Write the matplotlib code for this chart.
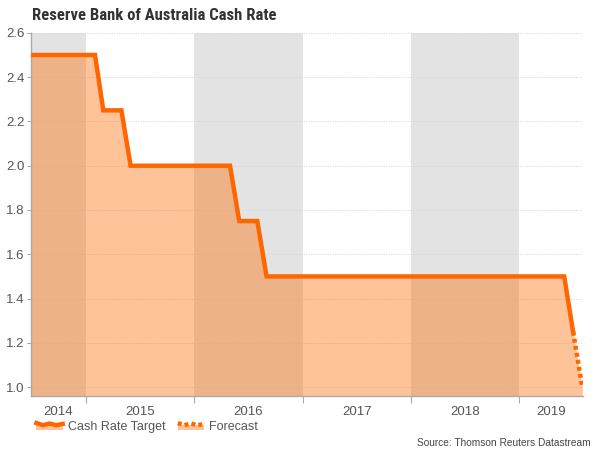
import pandas as pd
import matplotlib
matplotlib.use("Agg")
import matplotlib.pyplot as plt
from matplotlib.lines import Line2D
from matplotlib.patches import Rectangle
from matplotlib.legend_handler import HandlerBase

# -------------------- DATA --------------------
# monthly points where the cash rate changes (value at start of month)
rate_dates = ['2014-07', '2015-02', '2015-03', '2015-05', '2015-06', '2016-05',
              '2016-06', '2016-08', '2016-09', '2019-06', '2019-07']
rate_values = [2.50, 2.50, 2.25, 2.25, 2.00, 2.00, 1.75, 1.75, 1.50, 1.50, 1.25]
fc_dates = ['2019-07', '2019-08']
fc_values = [1.25, 1.00]
shaded_years = [2014, 2016, 2018]
year_labels = [2014, 2015, 2016, 2017, 2018, 2019]
y_ticks = [1.0, 1.2, 1.4, 1.6, 1.8, 2.0, 2.2, 2.4, 2.6]

ORANGE = '#ff6600'
GREY_TXT = '#555555'
DOTS = (0, (0.9, 0.7))

x_rate = pd.to_datetime(rate_dates)
x_fc = pd.to_datetime(fc_dates)
x_min = pd.Timestamp('2014-07-01')
x_max = pd.Timestamp('2019-08-04')
y_min, y_max = 0.96, 2.6


class AreaLineHandler(HandlerBase):
    """peach strip with a wavy orange line on top (like the area legend icon)"""
    def __init__(self, ls='-'):
        super().__init__()
        self.ls = ls

    def create_artists(self, legend, orig_handle, xdescent, ydescent, width,
                       height, fontsize, trans):
        rect = Rectangle((-xdescent, -ydescent), width, height * 0.55,
                         facecolor='#ff6a00', alpha=0.4, lw=0, transform=trans)
        xs = [-xdescent + width * f for f in (0, 0.25, 0.5, 0.75, 1.0)]
        ys = [-ydescent + height * f for f in (0.75, 0.5, 0.7, 0.5, 0.65)]
        line = Line2D(xs, ys, color=ORANGE, lw=3.2, ls=self.ls, transform=trans)
        return [rect, line]


plt.rcParams['font.family'] = ['Liberation Sans', 'DejaVu Sans']
fig = plt.figure(figsize=(6, 4.5), dpi=100)
ax = fig.add_axes([0.052, 0.12, 0.92, 0.807])

# grey bands for alternate years
for yr in shaded_years:
    lo = max(pd.Timestamp(f'{yr}-01-01'), x_min)
    hi = min(pd.Timestamp(f'{yr + 1}-01-01'), x_max)
    ax.axvspan(lo, hi, color='#e3e3e3', lw=0, zorder=0)

# faint dotted grid
for y in y_ticks:
    ax.axhline(y, color='#d6d6d6', lw=0.7, ls=(0, (1, 1.5)), zorder=1)

# fill under the whole series
x_all = list(x_rate) + list(x_fc[1:])
y_all = rate_values + fc_values[1:]
ax.fill_between(x_all, y_all, y_min, color='#ff6a00', alpha=0.4, lw=0, zorder=2)

ax.plot(x_rate, rate_values, color=ORANGE, lw=3.2, solid_joinstyle='miter', zorder=3)
ax.plot(x_fc, fc_values, color=ORANGE, lw=3.2, ls=DOTS, zorder=3)

ax.set_xlim(x_min, x_max)
ax.set_ylim(y_min, y_max)

# y axis
ax.set_yticks(y_ticks)
ax.set_yticklabels([f'{v:.1f}' for v in y_ticks])
ax.tick_params(axis='y', length=3, color='#aaaaaa', labelsize=9.5, labelcolor=GREY_TXT, pad=2)

# x axis: ticks at year boundaries, labels centred in visible part of year
bounds = [pd.Timestamp(f'{y}-01-01') for y in year_labels[1:]]
ax.set_xticks(bounds)
ax.set_xticklabels([])
ax.tick_params(axis='x', length=5, color='#aaaaaa')
centres = []
for yr in year_labels:
    lo = max(pd.Timestamp(f'{yr}-01-01'), x_min)
    hi = min(pd.Timestamp(f'{yr + 1}-01-01'), x_max)
    centres.append(lo + (hi - lo) / 2)
ax.set_xticks(centres, minor=True)
ax.set_xticklabels([str(y) for y in year_labels], minor=True)
ax.tick_params(axis='x', which='minor', length=0, labelsize=9.5, labelcolor=GREY_TXT, pad=7)

for s in ['top', 'right']:
    ax.spines[s].set_visible(False)
for s in ['left', 'bottom']:
    ax.spines[s].set_color('#aaaaaa')
    ax.spines[s].set_linewidth(1.0)

fig.text(0.053, 0.965, 'Reserve Bank of Australia Cash Rate', fontsize=12,
         fontweight='bold', color='#333333', va='center', ha='left',
         family=['Roboto Condensed', 'Lato', 'DejaVu Sans'])

h1 = Line2D([], [])
h2 = Line2D([], [], ls=':')
fig.legend([h1, h2], ['Cash Rate Target', 'Forecast'],
           handler_map={h1: AreaLineHandler('-'), h2: AreaLineHandler(DOTS)},
           loc='center left', bbox_to_anchor=(0.042, 0.052), ncol=2, frameon=False,
           fontsize=9, labelcolor=GREY_TXT, handlelength=2.1, handletextpad=0.4,
           columnspacing=1.0)

fig.text(0.985, 0.005, 'Source: Thomson Reuters Datastream', fontsize=7.3,
         color='#444444', ha='right', va='bottom')

fig.savefig('out.png', dpi=100)
